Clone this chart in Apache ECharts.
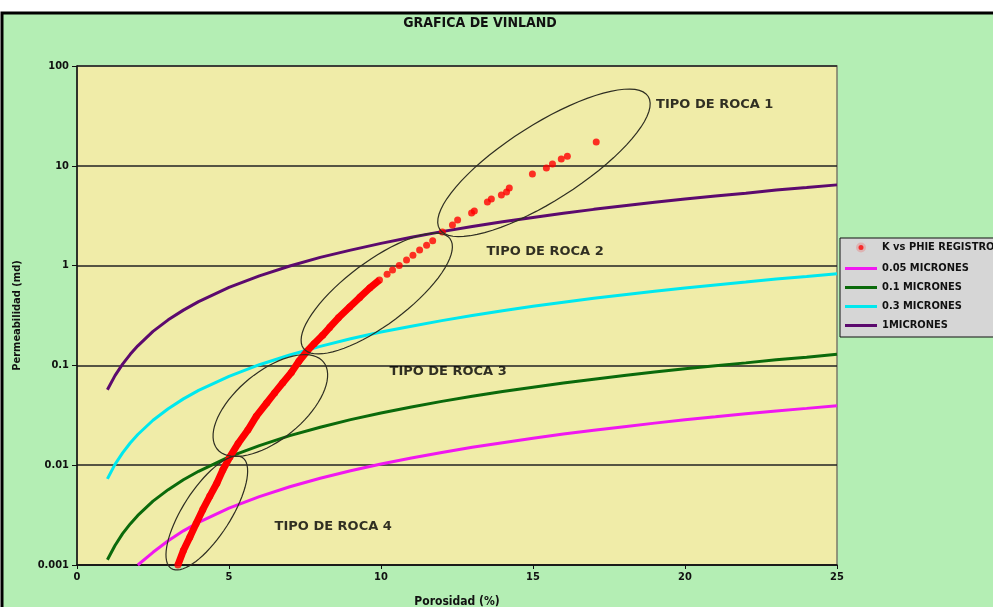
<!DOCTYPE html>
<html>
<head>
<meta charset="utf-8">
<title>Grafica de Vinland</title>
<script src="https://cdn.jsdelivr.net/npm/echarts@6/dist/echarts.min.js"></script>
<style>
    html, body { margin: 0; padding: 0; background: #fff; }
    #chart { width: 993px; height: 607px; }
</style>
</head>
<body>
<div id="chart"></div>
<script>
// porosidad (%) para las curvas de Winland
const phi = [1, 1.25, 1.5, 1.75, 2, 2.5, 3, 3.5, 4, 5, 6, 7, 8, 9, 10, 11, 12, 13, 14, 15, 16, 17, 18, 19, 20, 21, 22, 23, 24, 25]

const k005 = [null, null, null, null, 0.001, 0.00134, 0.00175, 0.0022, 0.00267, 0.00372, 0.00485, 0.00608, 0.0074, 0.00879, 0.0103, 0.0118, 0.0134, 0.0151, 0.0168, 0.0186, 0.0205, 0.0224, 0.0243, 0.0264, 0.0285, 0.0305, 0.0327, 0.035, 0.0371, 0.0394]
const k01 = [0.00113, 0.00157, 0.00206, 0.00258, 0.00314, 0.00436, 0.00569, 0.00714, 0.00869, 0.0121, 0.0157, 0.0198, 0.024, 0.0286, 0.0334, 0.0383, 0.0436, 0.049, 0.0547, 0.0605, 0.0665, 0.0728, 0.0791, 0.0859, 0.0925, 0.0993, 0.106, 0.114, 0.121, 0.129]
const k03 = [0.0073, 0.0102, 0.0133, 0.0167, 0.0203, 0.0282, 0.0368, 0.0462, 0.0562, 0.0778, 0.1016, 0.127, 0.155, 0.185, 0.216, 0.247, 0.281, 0.316, 0.353, 0.391, 0.43, 0.47, 0.511, 0.553, 0.597, 0.64, 0.684, 0.735, 0.778, 0.828]
const k1 = [0.057, 0.079, 0.103, 0.129, 0.157, 0.219, 0.286, 0.358, 0.436, 0.605, 0.79, 0.99, 1.21, 1.43, 1.67, 1.92, 2.19, 2.46, 2.75, 3.04, 3.34, 3.66, 3.97, 4.31, 4.64, 4.98, 5.32, 5.71, 6.05, 6.44]

// K vs PHIE registro: tramo denso
const regPhi = [3.32, 3.5, 3.71, 3.92, 4.14, 4.37, 4.6, 4.8, 5.03, 5.3, 5.62, 5.9, 6.24, 6.5, 6.77, 7.05, 7.3, 7.56, 7.8, 8.08, 8.31, 8.6, 8.97, 9.3, 9.63, 9.95]
const regK = [0.001, 0.0014, 0.0019, 0.0026, 0.0036, 0.0049, 0.0066, 0.009, 0.0121, 0.0165, 0.0225, 0.031, 0.042, 0.053, 0.067, 0.085, 0.11, 0.138, 0.165, 0.2, 0.24, 0.3, 0.385, 0.48, 0.597, 0.718]
// tramo disperso
const regPhi2 = [10.2, 10.38, 10.6, 10.84, 11.05, 11.27, 11.5, 11.7, 12.02, 12.35, 12.52, 12.98, 13.07, 13.5, 13.63, 13.96, 14.13, 14.22, 14.98, 15.44, 15.64, 15.93, 16.13, 17.08]
const regK2 = [0.82, 0.904, 1.0, 1.14, 1.27, 1.43, 1.6, 1.77, 2.17, 2.55, 2.86, 3.37, 3.52, 4.34, 4.65, 5.1, 5.46, 6.0, 8.28, 9.5, 10.4, 11.7, 12.5, 17.3]

// elipses: centro, extremo del eje mayor, extremo del eje menor (phi, k)
const ellipses = [
    [15.36, 10.7, 18.79, 49.5, 16.03, 5.09],
    [9.86, 0.525, 12.27, 1.86, 10.48, 0.292],
    [6.36, 0.0396, 8.11, 0.108, 7.06, 0.0215],
    [4.27, 0.00332, 5.44, 0.01194, 4.93, 0.00246]
]

// etiquetas de tipo de roca
const rockNames = ['TIPO DE ROCA 1', 'TIPO DE ROCA 2', 'TIPO DE ROCA 3', 'TIPO DE ROCA 4']
const rockPhi = [19.05, 13.47, 10.28, 6.5]
const rockK = [40.7, 1.37, 0.0859, 0.0024]

const narrow = '"Liberation Sans Narrow", "DejaVu Sans Condensed", "Roboto Condensed", sans-serif'
// icono de linea fina para la leyenda
const lineIcon = 'path://M0,0 L32,0 L32,3 L0,3 Z'

const pairs = (xs, ys) => xs.map((x, i) => [x, ys[i]]).filter(p => p[1] != null)

const curve = (name, ys, color) => ({
    name: name,
    type: 'line',
    data: pairs(phi, ys),
    symbol: 'none',
    lineStyle: { color: color, width: 3 },
    itemStyle: { color: color },
    z: 2
})

const chart = echarts.init(document.getElementById('chart'))

const option = {
    backgroundColor: '#ffffff',
    animation: false,
    graphic: [
        {
            type: 'rect',
            z: -10,
            silent: true,
            shape: { x: 2, y: 13, width: 1100, height: 700 },
            style: { fill: '#b4eeb4', stroke: '#000', lineWidth: 3 }
        },
        {
            type: 'text',
            x: 480,
            y: 23,
            style: {
                text: 'GRAFICA DE VINLAND',
                font: 'bold 14px ' + narrow,
                fill: '#111',
                textAlign: 'center',
                textVerticalAlign: 'middle'
            }
        }
    ],
    grid: {
        left: 77,
        right: 156,
        top: 66,
        bottom: 42,
        outerBoundsMode: 'none',
        show: true,
        backgroundColor: '#f0eca8',
        borderColor: '#7a7a6a',
        borderWidth: 1.5
    },
    legend: {
        orient: 'vertical',
        left: 840,
        top: 238,
        padding: [2, 5, 6, 5],
        itemGap: 8,
        itemWidth: 32,
        itemHeight: 10,
        backgroundColor: '#d6d6d6',
        borderColor: '#111',
        borderWidth: 1,
        borderRadius: 0,
        textStyle: { fontFamily: narrow, fontWeight: 'bold', fontSize: 11, color: '#111' },
        data: [
            { name: 'K vs PHIE REGISTRO', icon: 'circle', itemStyle: { borderColor: '#d6d6d6', borderWidth: 5 } },
            { name: '0.05 MICRONES', icon: lineIcon },
            { name: '0.1 MICRONES', icon: lineIcon },
            { name: '0.3 MICRONES', icon: lineIcon },
            { name: '1MICRONES', icon: lineIcon }
        ]
    },
    xAxis: {
        type: 'value',
        min: 0,
        max: 25,
        interval: 5,
        name: 'Porosidad (%)',
        nameLocation: 'middle',
        nameGap: 31,
        nameTextStyle: { fontFamily: narrow, fontWeight: 'bold', fontSize: 12, color: '#111' },
        axisLine: { lineStyle: { color: '#111', width: 1.5 } },
        axisTick: { show: true, length: 4, lineStyle: { color: '#111' } },
        axisLabel: { fontFamily: narrow, fontWeight: 'bold', fontSize: 11, color: '#111', margin: 7 },
        splitLine: { show: false }
    },
    yAxis: {
        type: 'log',
        logBase: 10,
        min: 0.001,
        max: 100,
        name: 'Permeabilidad (md)',
        nameLocation: 'middle',
        nameGap: 54,
        nameTextStyle: { fontFamily: narrow, fontWeight: 'bold', fontSize: 11, color: '#111' },
        axisLine: { show: true, lineStyle: { color: '#111', width: 1.5 } },
        axisTick: { show: true, length: 5, lineStyle: { color: '#111' } },
        axisLabel: {
            fontFamily: narrow,
            fontWeight: 'bold',
            fontSize: 11,
            color: '#111',
            margin: 8,
            formatter: v => String(Number(v.toPrecision(3)))
        },
        splitLine: { show: true, lineStyle: { color: '#222', width: 1.5 } }
    },
    series: [
        curve('0.05 MICRONES', k005, '#f018f0'),
        curve('0.1 MICRONES', k01, '#0b6a0b'),
        curve('0.3 MICRONES', k03, '#00e8ee'),
        curve('1MICRONES', k1, '#5c0a6e'),
        // tramo denso como linea gruesa
        {
            name: 'registro-denso',
            type: 'line',
            data: pairs(regPhi, regK),
            symbol: 'none',
            lineStyle: { color: '#ff0000', width: 7 },
            z: 3
        },
        {
            name: 'K vs PHIE REGISTRO',
            type: 'scatter',
            data: pairs(regPhi, regK).concat(pairs(regPhi2, regK2)),
            symbol: 'circle',
            symbolSize: 7,
            itemStyle: { color: '#ff0000' },
            z: 4
        },
        {
            name: 'elipses',
            type: 'custom',
            clip: false,
            z: 5,
            data: ellipses,
            encode: { x: [0, 2, 4], y: [1, 3, 5] },
            renderItem: (params, api) => {
                const c = api.coord([api.value(0), api.value(1)])
                const m = api.coord([api.value(2), api.value(3)])
                const n = api.coord([api.value(4), api.value(5)])
                const ux = m[0] - c[0], uy = m[1] - c[1]
                const vx = n[0] - c[0], vy = n[1] - c[1]
                const points = []
                for (let i = 0; i < 72; i++) {
                    const t = (i / 72) * Math.PI * 2
                    points.push([c[0] + ux * Math.cos(t) + vx * Math.sin(t), c[1] + uy * Math.cos(t) + vy * Math.sin(t)])
                }
                return {
                    type: 'polygon',
                    shape: { points: points },
                    style: { fill: 'none', stroke: '#2e2e22', lineWidth: 1.2 }
                }
            }
        },
        {
            name: 'etiquetas',
            type: 'scatter',
            symbolSize: 0,
            z: 6,
            data: rockNames.map((name, i) => ({ name: name, value: [rockPhi[i], rockK[i]] })),
            label: {
                show: true,
                position: 'right',
                distance: 0,
                formatter: p => p.name,
                fontFamily: '"DejaVu Sans", sans-serif',
                fontWeight: 900,
                fontSize: 13,
                color: '#000'
            }
        }
    ]
}

chart.setOption(option)
</script>
</body>
</html>
